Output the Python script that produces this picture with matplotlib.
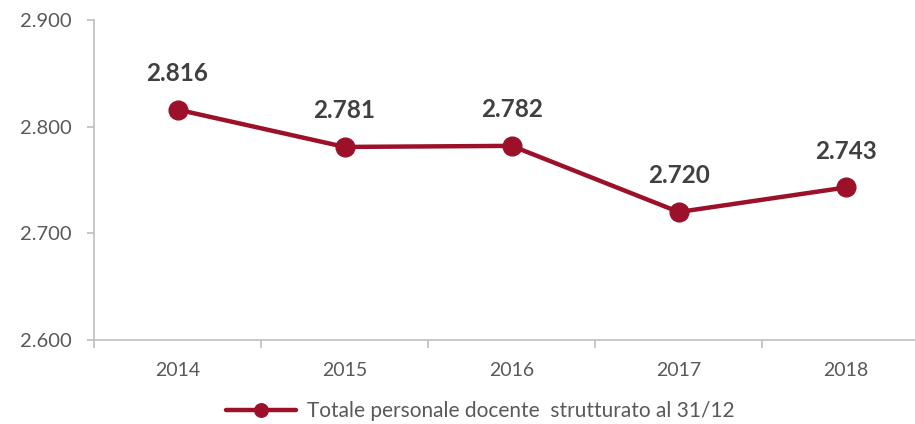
import matplotlib
matplotlib.use("Agg")
import matplotlib.pyplot as plt
from matplotlib.ticker import FuncFormatter, FixedLocator

years = ["2014", "2015", "2016", "2017", "2018"]
values = [2816, 2781, 2782, 2720, 2743]
series_name = "Totale personale docente  strutturato al 31/12"
yticks = [2600, 2700, 2800, 2900]

plt.rcParams['font.family'] = ['Lato', 'DejaVu Sans']
color = '#9C1129'
grey = '#BFBFBF'

fig = plt.figure(figsize=(9.15, 4.24), dpi=100)
ax = fig.add_axes([94/915, 1-340/424, 1-94/915, 320/424])
x = list(range(len(years)))
ax.plot(x, values, color=color, lw=3.2, marker='o', markersize=13.5, label=series_name, solid_capstyle='round')

def fmt(v):
    return f"{v:,.0f}".replace(",", ".")

for xi, v in zip(x, values):
    ax.annotate(fmt(v), (xi, v), xytext=(0, 26), textcoords='offset points',
                ha='center', va='center', fontsize=17.5, fontweight='bold', color='#404040')

ax.set_ylim(2600, 2900)
ax.set_yticks(yticks)
ax.yaxis.set_major_formatter(FuncFormatter(lambda v, p: fmt(v)))
ax.set_xlim(-0.5, 4 + (915-846)/166.7)
ax.set_xticks(x)
ax.set_xticklabels(years)
ax.xaxis.set_minor_locator(FixedLocator([-0.5, 0.5, 1.5, 2.5, 3.5, 4.5]))
ax.tick_params(axis='x', which='major', length=0, pad=16, labelsize=14, labelcolor='#595959')
ax.tick_params(axis='x', which='minor', length=6, color=grey, width=1.2)
ax.tick_params(axis='y', length=5, color=grey, width=1.2, labelsize=14.5, labelcolor='#595959', pad=11)
for s in ['top', 'right']:
    ax.spines[s].set_visible(False)
for s in ['left', 'bottom']:
    ax.spines[s].set_color(grey)
    ax.spines[s].set_linewidth(1.2)

fig.legend(loc='center', bbox_to_anchor=(480/915, 1-411/424), frameon=False,
           fontsize=15, labelcolor='#595959', handlelength=3.4, handletextpad=0.5,
           markerscale=0.72)

fig.savefig("out.png", dpi=100)
